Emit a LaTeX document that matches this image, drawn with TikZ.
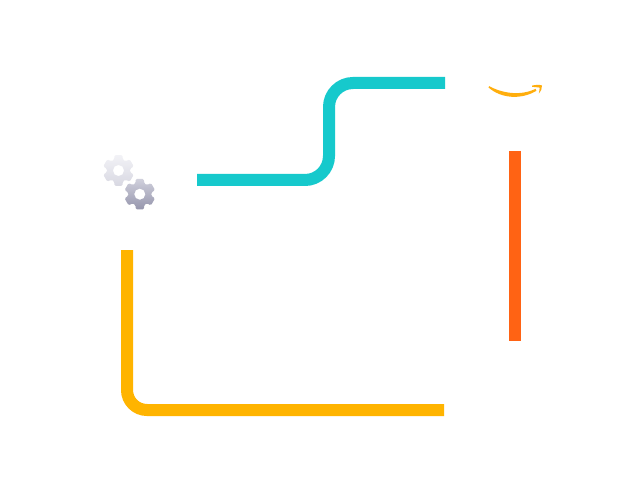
\documentclass[tikz,border=0pt]{standalone}
\definecolor{tealline}{HTML}{16C9CC}
\definecolor{amberline}{HTML}{FFB400}
\definecolor{orangeline}{HTML}{FF6314}
\definecolor{smile}{HTML}{FFAE0D}
\definecolor{gearAtop}{HTML}{F2F2F6}
\definecolor{gearAbot}{HTML}{D8D8E2}
\definecolor{gearBtop}{HTML}{D0D0DC}
\definecolor{gearBbot}{HTML}{9595AC}
\tikzset{
  pipe/.style={line width=9pt,line cap=butt},
}
\newcommand{\gearpath}{%
  (75:15.8) \foreach \a in {90,150,210,270,330,390}{
    -- (\a-15:15.8) -- (\a+15:15.8) -- (\a+22:11.6) -- (\a+38:11.6)
  } -- cycle (0,0) circle[radius=5.6]}
\begin{document}
\begin{tikzpicture}[x=0.75pt,y=-0.75pt]
\useasboundingbox (0,0) rectangle (640,492);
\fill[white] (0,0) rectangle (640,492);
\coordinate (tealA) at (197,180);
\coordinate (tealB) at (329,180);
\coordinate (tealC) at (329,83);
\coordinate (tealD) at (445,83);
\coordinate (amberA) at (127,250);
\coordinate (amberB) at (127,410);
\coordinate (amberC) at (444,410);
\coordinate (orangeA) at (515,151);
\coordinate (orangeB) at (515,341);
\draw[pipe,tealline,rounded corners=18pt] (tealA) -- (tealB) -- (tealC) -- (tealD);
\draw[pipe,amberline,rounded corners=15pt] (amberA) -- (amberB) -- (amberC);
\draw[pipe,orangeline] (orangeA) -- (orangeB);
\begin{scope}[shift={(118.5,170.5)}]
  \shade[even odd rule,top color=gearAtop,bottom color=gearAbot,rounded corners=1pt] \gearpath;
\end{scope}
\begin{scope}[shift={(139.8,194.2)}]
  \shade[even odd rule,top color=gearBtop,bottom color=gearBbot,rounded corners=1pt] \gearpath;
\end{scope}
\fill[smile] (489.2,86.2) .. controls (503,93.6) and (521,96) .. (535.6,88.8)
  -- (536.4,90.8) .. controls (521,100) and (501,98.6) .. (488.4,87.4) -- cycle;
\fill[smile] (532,85.6) .. controls (535,84.8) and (539.4,84.6) .. (542,85.4)
  .. controls (542.2,88.5) and (540.8,91.8) .. (538.8,93.6)
  .. controls (539.2,91.4) and (539.8,89.4) .. (539.6,87.6)
  .. controls (538,87.2) and (535,87.2) .. (532,86.8) -- cycle;
\end{tikzpicture}
\end{document}
